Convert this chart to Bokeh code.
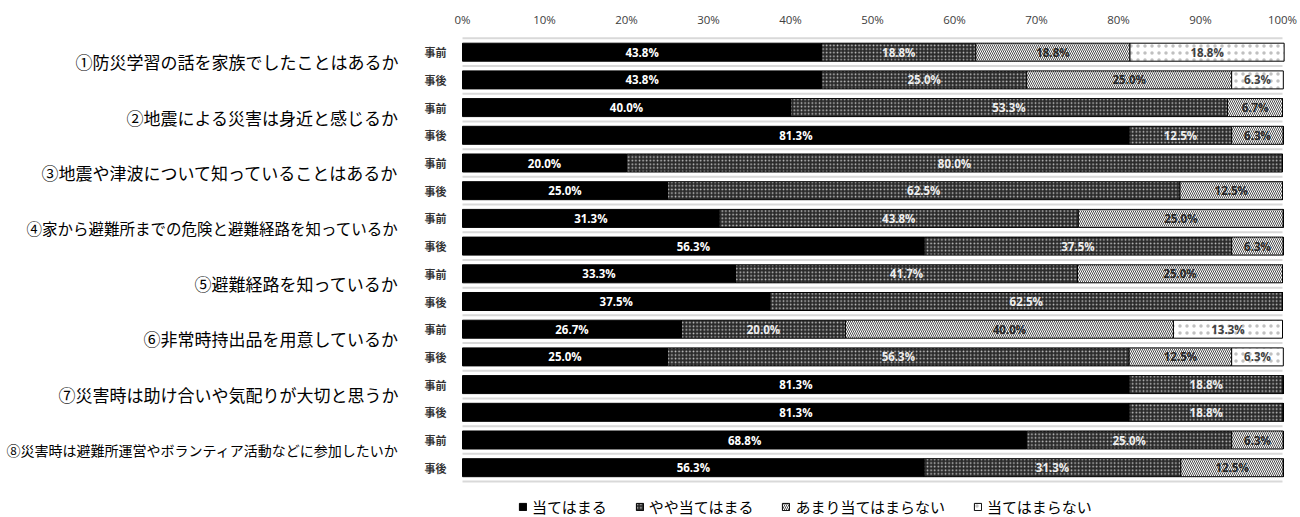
import numpy as np
from bokeh.plotting import figure
from bokeh.models import (ColumnDataSource, Range1d, FixedTicker, CustomJSTickFormatter,
                          Legend, LegendItem)
from bokeh.core.properties import value
from bokeh.embed import file_html
from bokeh.resources import INLINE

# ---------------- data ----------------
questions = [
    "①防災学習の話を家族でしたことはあるか",
    "②地震による災害は身近と感じるか",
    "③地震や津波について知っていることはあるか",
    "④家から避難所までの危険と避難経路を知っているか",
    "⑤避難経路を知っているか",
    "⑥非常時持出品を用意しているか",
    "⑦災害時は助け合いや気配りが大切と思うか",
    "⑧災害時は避難所運営やボランティア活動などに参加したいか",
]
phases = ["事前", "事後"]
categories = ["当てはまる", "やや当てはまる", "あまり当てはまらない", "当てはまらない"]

atehamaru_pre  = [43.8, 40.0, 20.0, 31.3, 33.3, 26.7, 81.3, 68.8]
atehamaru_post = [43.8, 81.3, 25.0, 56.3, 37.5, 25.0, 81.3, 56.3]
yaya_pre       = [18.8, 53.3, 80.0, 43.8, 41.7, 20.0, 18.8, 25.0]
yaya_post      = [25.0, 12.5, 62.5, 37.5, 62.5, 56.3, 18.8, 31.3]
amari_pre      = [18.8, 6.7, 0.0, 25.0, 25.0, 40.0, 0.0, 6.3]
amari_post     = [25.0, 6.3, 12.5, 6.3, 0.0, 12.5, 0.0, 12.5]
nai_pre        = [18.8, 0.0, 0.0, 0.0, 0.0, 13.3, 0.0, 0.0]
nai_post       = [6.3, 0.0, 0.0, 0.0, 0.0, 6.3, 0.0, 0.0]

x_ticks = [0, 10, 20, 30, 40, 50, 60, 70, 80, 90, 100]

# ---------------- styles ----------------
question_font_sizes = ["17px", "17px", "17px", "15.5px", "17px", "17px", "17px", "14px"]
styles = [
    dict(fill_color="black", hatch_pattern=None, hatch_color="black", hatch_scale=4, hatch_weight=1, text_color="white"),
    dict(fill_color="#2a2a2a", hatch_pattern="dot", hatch_color="#c8c8c8", hatch_scale=3.6, hatch_weight=0.5, text_color="#eeeeee"),
    dict(fill_color="white", hatch_pattern="left_diagonal_line", hatch_color="#222222", hatch_scale=4, hatch_weight=0.8, text_color="#262626"),
    dict(fill_color="white", hatch_pattern="dot", hatch_color="#c0c0c0", hatch_scale=7, hatch_weight=0.3, text_color="#404040"),
]

def interleave(pre, post):
    out = []
    for a, b in zip(pre, post):
        out += [a, b]
    return np.array(out, dtype=float)

series = [
    interleave(atehamaru_pre, atehamaru_post),
    interleave(yaya_pre, yaya_post),
    interleave(amari_pre, amari_post),
    interleave(nai_pre, nai_post),
]
n_rows = len(questions) * len(phases)
rows = np.arange(n_rows)

# ---------------- figure ----------------
px_per_unit = 8.2
W, H = 1300, 517
p = figure(width=W, height=H, output_backend="svg", toolbar_location=None,
           x_axis_location="above", y_axis_location=None,
           x_range=Range1d(-462 / px_per_unit, (W - 462) / px_per_unit),
           y_range=Range1d((H - 51.7) / 27.7, -(51.7 - 32) / 27.7),
           min_border_left=0, min_border_right=0, min_border_bottom=0, min_border_top=32)
p.outline_line_color = None
p.xgrid.visible = False
p.ygrid.visible = False
p.background_fill_color = "white"
p.border_fill_color = "white"

ax = p.xaxis[0]
ax.ticker = FixedTicker(ticks=x_ticks)
ax.formatter = CustomJSTickFormatter(code="return tick.toFixed(0) + '%';")
ax.axis_line_color = None
ax.major_tick_line_color = None
ax.minor_tick_line_color = None
ax.major_label_standoff = 0
ax.major_label_text_font = "Open Sans"
ax.major_label_text_font_size = "11.5px"
ax.major_label_text_font_style = "normal"
ax.major_label_text_color = "#404040"

# separators between bars
bounds = np.arange(n_rows + 1) - 0.5
p.segment(x0=np.zeros_like(bounds), x1=np.full_like(bounds, x_ticks[-1]), y0=bounds, y1=bounds,
          line_color="#d9d9d9", line_width=2)

# stacked bars
left = np.zeros(n_rows)
renderers = []
label_x, label_y, label_t, label_c = [], [], [], []
for vals, st in zip(series, styles):
    right = left + vals
    src = ColumnDataSource(dict(y=rows, left=left.copy(), right=right.copy()))
    kw = dict(fill_color=st["fill_color"], line_color="black", line_width=1)
    if st["hatch_pattern"]:
        kw.update(hatch_pattern=st["hatch_pattern"], hatch_color=st["hatch_color"],
                  hatch_scale=st["hatch_scale"], hatch_weight=st["hatch_weight"])
    r = p.hbar(y="y", left="left", right="right", height=0.65, source=src, **kw)
    renderers.append(r)
    for i in range(n_rows):
        if vals[i] > 0:
            label_x.append(left[i] + vals[i] / 2)
            label_y.append(rows[i])
            label_t.append(f"{vals[i]:.1f}%")
            label_c.append(st["text_color"])
    left = right

p.text(x="x", y="y", text="t", text_color="c",
       source=ColumnDataSource(dict(x=label_x, y=label_y, t=label_t, c=label_c)),
       text_align="center", text_baseline="middle", text_font=value("Open Sans"),
       text_font_style="bold", text_font_size="11.5px")

# phase labels
p.text(x=np.full(n_rows, -38 / px_per_unit), y=rows,
       text=[phases[i % 2] for i in rows], text_align="left", text_baseline="middle",
       text_font=value("Noto Sans CJK JP"), text_font_style="bold",
       text_font_size="11px", text_color="#333333")

# question labels
q_y = np.arange(len(questions)) * 2 + 0.5 - 0.15
p.text(x=np.full(len(questions), -64 / px_per_unit), y=q_y, text=questions,
       text_font_size=question_font_sizes,
       text_align="right", text_baseline="middle",
       text_font=value("Noto Sans CJK JP"), text_color="black")

legend = Legend(items=[LegendItem(label=c, renderers=[r]) for c, r in zip(categories, renderers)],
                orientation="horizontal", location=(518, 0),
                glyph_width=9, glyph_height=9, label_standoff=5, spacing=28,
                padding=0, margin=0, border_line_color=None, background_fill_alpha=0,
                label_text_font="Noto Sans CJK JP", label_text_font_size="15px",
                label_text_color="black", label_height=16)
p.add_layout(legend, "center")

open("out.html", "w").write(file_html(p, INLINE))
